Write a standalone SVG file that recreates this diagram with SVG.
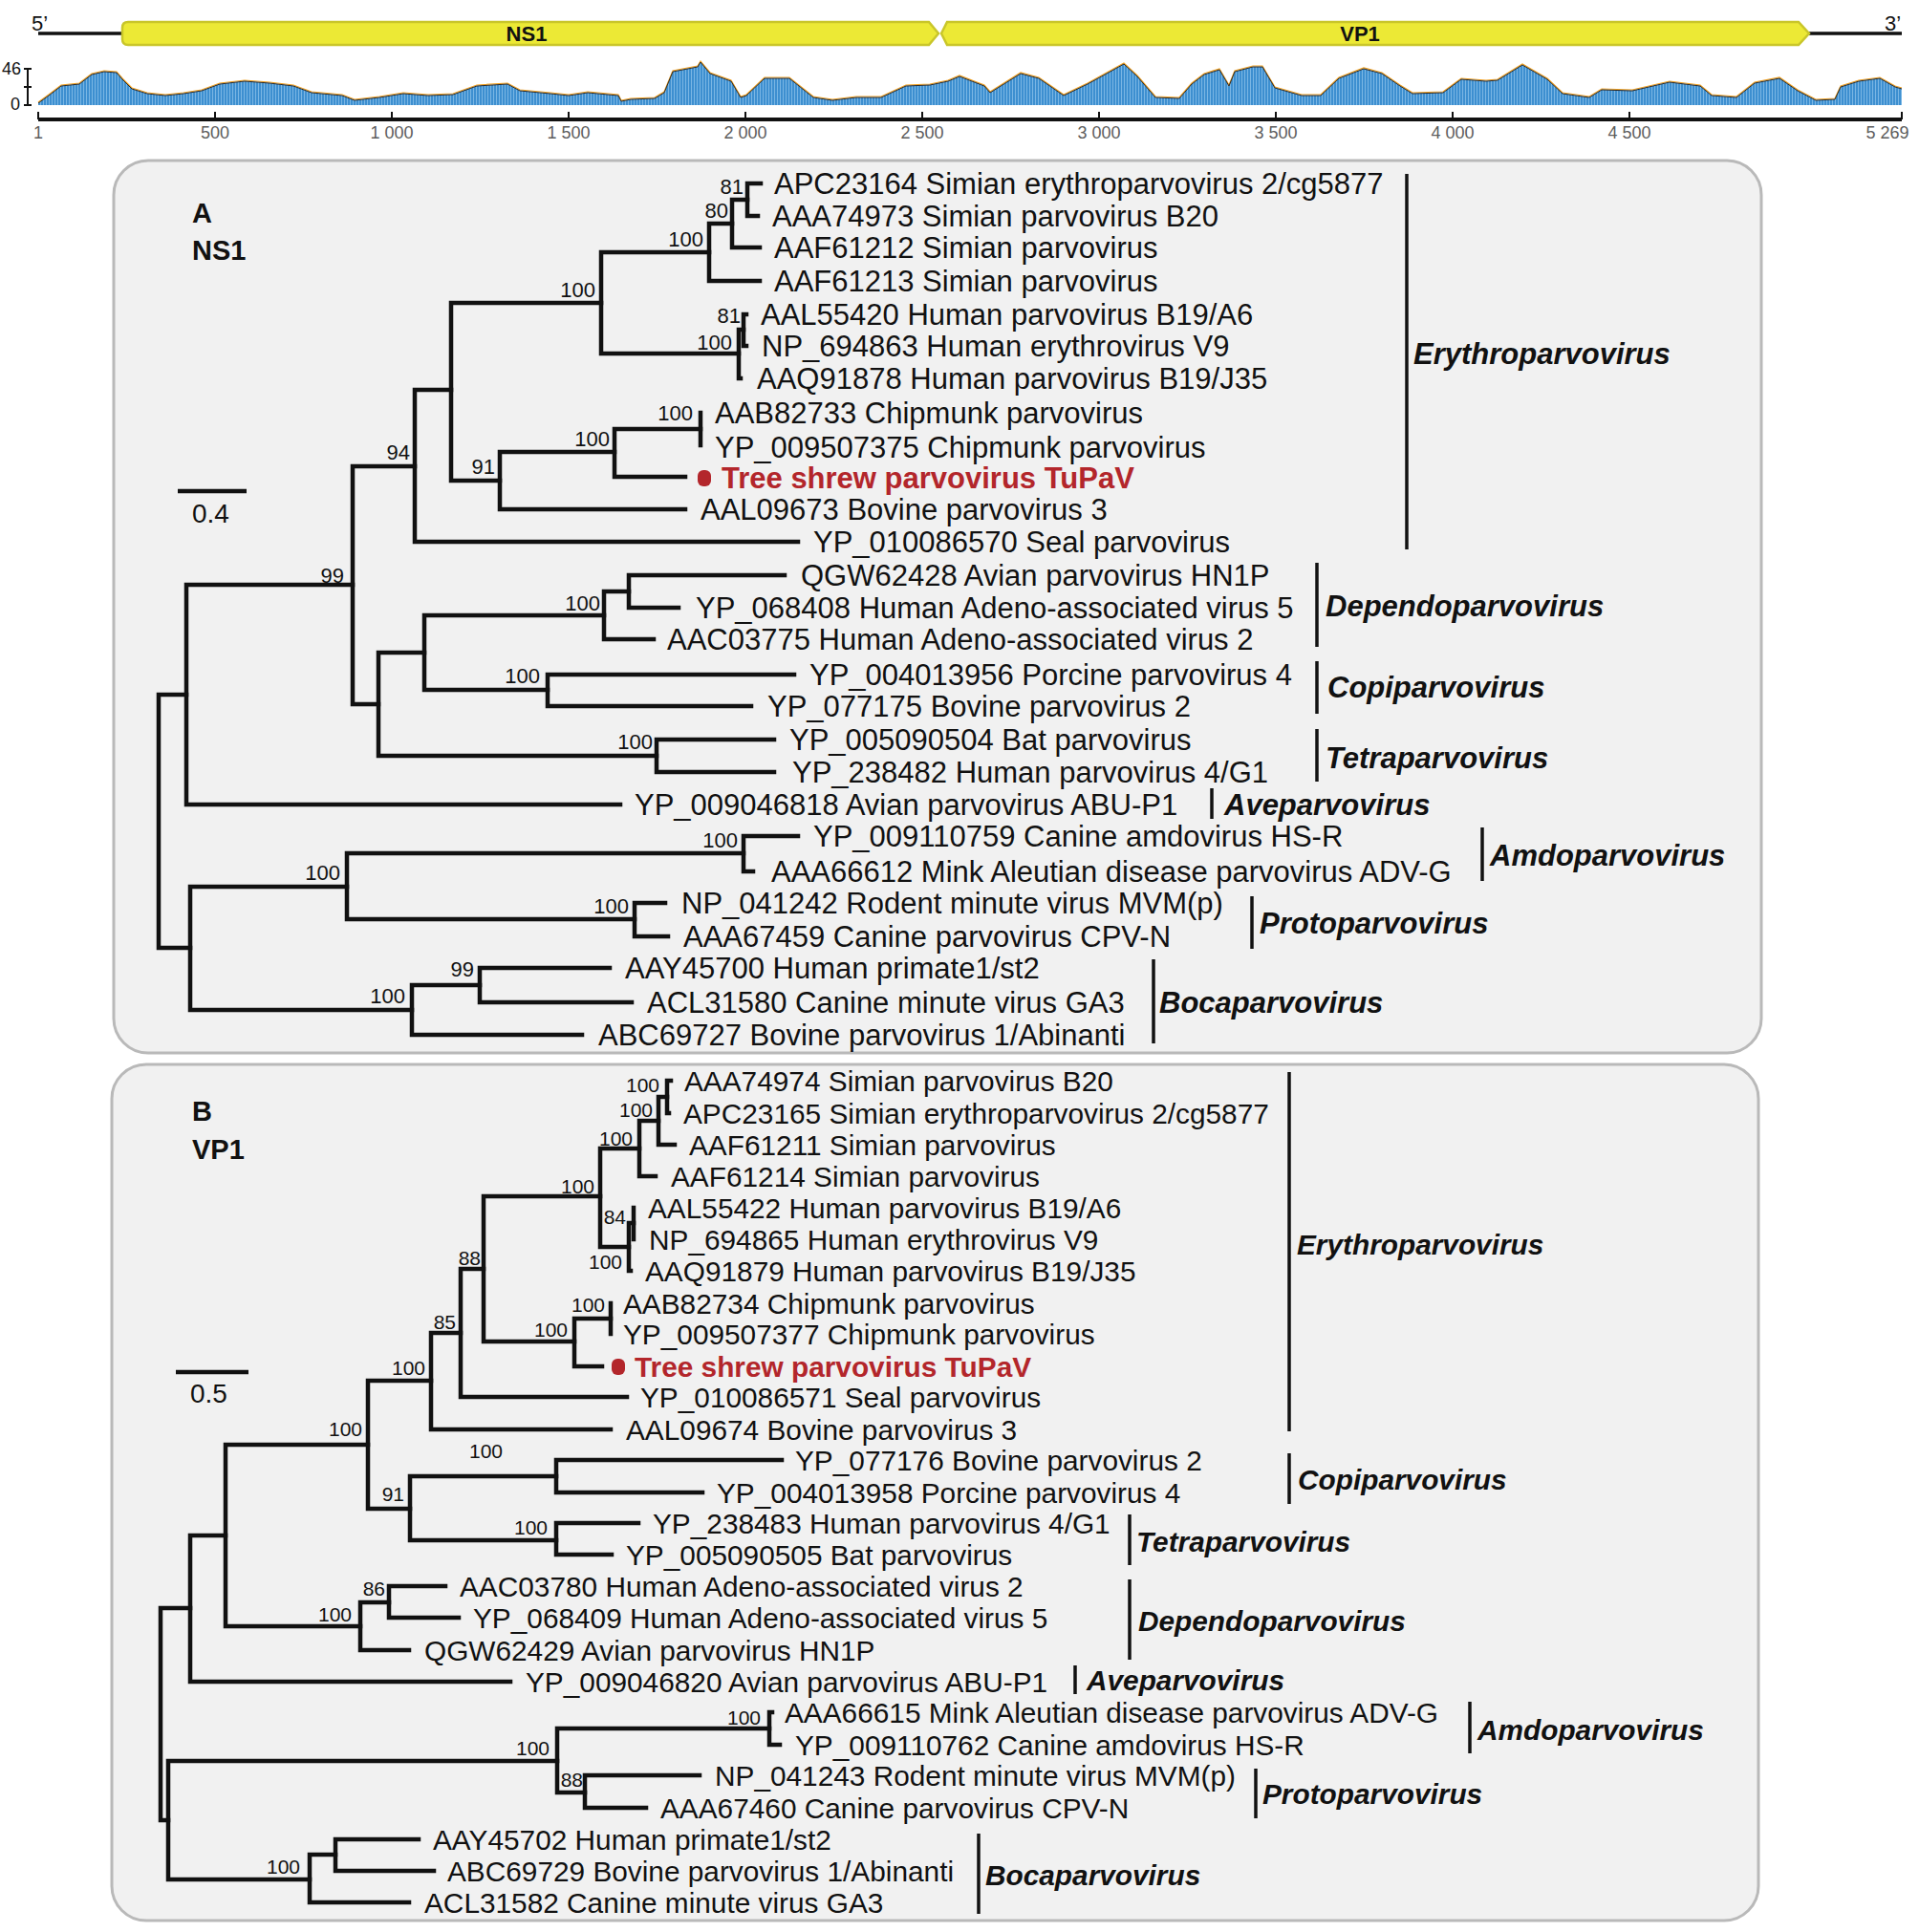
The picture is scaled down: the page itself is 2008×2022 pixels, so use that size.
<svg xmlns="http://www.w3.org/2000/svg" width="2008" height="2022" viewBox="0 0 2008 2022">
<defs>
<style>
text{font-family:"Liberation Sans",Arial,sans-serif;fill:#111}
.br{stroke:#111;stroke-width:4.5;fill:none;stroke-linecap:square}
.gb{stroke:#111;stroke-width:3.5}
.la{font-size:31px}
.lb{font-size:29.8px}
.ba{font-size:22px;text-anchor:end}
.bb{font-size:21px;text-anchor:end}
.gn{font-size:31px;font-weight:bold;font-style:italic}
.gnb{font-size:29.8px;font-weight:bold;font-style:italic}
.red{fill:#b3262b;font-weight:bold}
.pl{font-size:29px;font-weight:bold}
.ax{font-size:18px;fill:#5d5d5d;text-anchor:middle}
.panel{fill:#f1f1f1;stroke:#b9b9b9;stroke-width:3}
.gene{fill:#ece935;stroke:#c9c62a;stroke-width:2.5}
</style>
<pattern id="stripes" width="3" height="10" patternUnits="userSpaceOnUse">
<rect width="3" height="10" fill="#3d8fd0"/>
<rect width="1" height="10" fill="#7ab6e4"/>
</pattern>
</defs>
<rect width="2008" height="2022" fill="#ffffff"/>

<g id="genome">
<text x="33" y="32" style="font-size:22px">5’</text>
<text x="1972" y="32" style="font-size:22px">3’</text>
<line x1="40" y1="35" x2="129" y2="35" stroke="#111" stroke-width="3.5"/>
<line x1="1893" y1="35" x2="1990" y2="35" stroke="#111" stroke-width="3.5"/>
<path class="gene" d="M134,23 H972 L982,35 L972,47 H134 Q128,47 128,41 V29 Q128,23 134,23 Z"/>
<path class="gene" d="M991,23 H1882 L1893,35 L1882,47 H991 L985,35 Z"/>
<text x="551" y="43" style="font-size:22px;font-weight:bold" text-anchor="middle">NS1</text>
<text x="1423" y="43" style="font-size:22px;font-weight:bold" text-anchor="middle">VP1</text>
</g>

<g id="coverage">
<path fill="url(#stripes)" d="M40,110 L40,108 L51,100 L64,90 L83,88 L96,78 L109,75 L122,76 L128,83 L138,93 L154,98 L173,100 L192,98 L211,95 L230,88 L256,85 L282,87 L307,90 L326,97 L358,100 L371,105 L397,102 L422,98 L448,100 L474,99 L499,90 L531,88 L544,95 L576,98 L595,100 L615,97 L647,100 L650,106 L660,104 L685,103 L695,97 L704,75 L730,70 L733,65 L743,77 L765,85 L775,102 L781,100 L800,82 L826,82 L851,102 L871,105 L896,102 L922,102 L948,90 L973,89 L992,85 L1004,80 L1030,90 L1036,97 L1068,77 L1087,82 L1113,100 L1138,88 L1158,77 L1176,67 L1190,80 L1209,102 L1234,103 L1247,88 L1260,78 L1276,73 L1286,90 L1292,75 L1311,70 L1321,70 L1334,92 L1362,100 L1382,100 L1401,82 L1427,72 L1446,77 L1465,90 L1478,98 L1510,97 L1529,83 L1555,85 L1567,84 L1593,68 L1619,83 L1635,98 L1663,102 L1676,94 L1708,95 L1747,86 L1779,90 L1791,100 L1817,102 L1836,87 L1862,82 L1881,95 L1900,105 L1920,104 L1926,91 L1945,85 L1967,82 L1983,91 L1990,93 L1990,110 Z"/>
<polyline fill="none" stroke="#f0a020" stroke-width="1.2" transform="translate(0,-1)" points="40,108 51,100 64,90 83,88 96,78 109,75 122,76 128,83 138,93 154,98 173,100 192,98 211,95 230,88 256,85 282,87 307,90 326,97 358,100 371,105 397,102 422,98 448,100 474,99 499,90 531,88 544,95 576,98 595,100 615,97 647,100 650,106 660,104 685,103 695,97 704,75 730,70 733,65 743,77 765,85 775,102 781,100 800,82 826,82 851,102 871,105 896,102 922,102 948,90 973,89 992,85 1004,80 1030,90 1036,97 1068,77 1087,82 1113,100 1138,88 1158,77 1176,67 1190,80 1209,102 1234,103 1247,88 1260,78 1276,73 1286,90 1292,75 1311,70 1321,70 1334,92 1362,100 1382,100 1401,82 1427,72 1446,77 1465,90 1478,98 1510,97 1529,83 1555,85 1567,84 1593,68 1619,83 1635,98 1663,102 1676,94 1708,95 1747,86 1779,90 1791,100 1817,102 1836,87 1862,82 1881,95 1900,105 1920,104 1926,91 1945,85 1967,82 1983,91 1990,93"/>
<polyline fill="none" stroke="#2a2a2a" stroke-width="1" points="40,108 51,100 64,90 83,88 96,78 109,75 122,76 128,83 138,93 154,98 173,100 192,98 211,95 230,88 256,85 282,87 307,90 326,97 358,100 371,105 397,102 422,98 448,100 474,99 499,90 531,88 544,95 576,98 595,100 615,97 647,100 650,106 660,104 685,103 695,97 704,75 730,70 733,65 743,77 765,85 775,102 781,100 800,82 826,82 851,102 871,105 896,102 922,102 948,90 973,89 992,85 1004,80 1030,90 1036,97 1068,77 1087,82 1113,100 1138,88 1158,77 1176,67 1190,80 1209,102 1234,103 1247,88 1260,78 1276,73 1286,90 1292,75 1311,70 1321,70 1334,92 1362,100 1382,100 1401,82 1427,72 1446,77 1465,90 1478,98 1510,97 1529,83 1555,85 1567,84 1593,68 1619,83 1635,98 1663,102 1676,94 1708,95 1747,86 1779,90 1791,100 1817,102 1836,87 1862,82 1881,95 1900,105 1920,104 1926,91 1945,85 1967,82 1983,91 1990,93"/>
<path d="M29,72 V110 M25,72 H33 M25,91 H33 M25,110 H33" stroke="#111" stroke-width="2" fill="none"/>
<text x="22" y="78" style="font-size:18px" text-anchor="end">46</text>
<text x="21" y="115" style="font-size:18px" text-anchor="end">0</text>
</g>

<g id="axis">
<line x1="40" y1="125" x2="1990" y2="125" stroke="#111" stroke-width="4"/>
<path d="M40,117 V125 M225,117 V125 M410,117 V125 M595,117 V125 M780,117 V125 M965,117 V125 M1150,117 V125 M1335,117 V125 M1520,117 V125 M1705,117 V125 M1990,117 V125" stroke="#111" stroke-width="2"/>
<text class="ax" x="40" y="145">1</text>
<text class="ax" x="225" y="145">500</text>
<text class="ax" x="410" y="145">1 000</text>
<text class="ax" x="595" y="145">1 500</text>
<text class="ax" x="780" y="145">2 000</text>
<text class="ax" x="965" y="145">2 500</text>
<text class="ax" x="1150" y="145">3 000</text>
<text class="ax" x="1335" y="145">3 500</text>
<text class="ax" x="1520" y="145">4 000</text>
<text class="ax" x="1705" y="145">4 500</text>
<text class="ax" x="1975" y="145">5 269</text>
</g>

<rect class="panel" x="119" y="168" width="1724" height="934" rx="36"/>
<rect class="panel" x="117" y="1114" width="1723" height="896" rx="36"/>

<!-- ================= Tree A ================= -->
<g id="panelA-title">
<text class="pl" x="201" y="233">A</text>
<text class="pl" x="201" y="272">NS1</text>
<line x1="186" y1="514" x2="258" y2="514" stroke="#111" stroke-width="4.5"/>
<text x="201" y="547" style="font-size:28px">0.4</text>
</g>

<g id="connectors-A">
<path class="br" d="M166,727 V992 M166,727 H195 M166,992 H199"/>
<path class="br" d="M195,612 V842 M195,612 H369 M195,842 H649"/>
<path class="br" d="M369,488 V737 M369,488 H434 M369,737 H396"/>
<path class="br" d="M434,408 V567 M434,408 H472 M434,567 H835"/>
<path class="br" d="M472,317 V503 M472,317 H629 M472,503 H523"/>
<path class="br" d="M629,264 V370 M629,264 H742 M629,370 H773"/>
<path class="br" d="M742,234 V294 M742,234 H766 M742,294 H795"/>
<path class="br" d="M766,209 V259 M766,209 H782 M766,259 H795"/>
<path class="br" d="M782,192 V226 M782,192 H796 M782,226 H793"/>
<path class="br" d="M773,345 V396 M773,345 H778 M773,396 H775"/>
<path class="br" d="M778,329 V362 M778,329 H781 M778,362 H781"/>
<path class="br" d="M523,473 V533 M523,473 H643 M523,533 H717"/>
<path class="br" d="M643,449 V499 M643,449 H733 M643,499 H717"/>
<path class="br" d="M733,432 V466"/>
<path class="br" d="M396,683 V791 M396,683 H444 M396,791 H687"/>
<path class="br" d="M444,644 V722 M444,644 H632 M444,722 H573"/>
<path class="br" d="M632,619 V669 M632,619 H658 M632,669 H684"/>
<path class="br" d="M658,602 V636 M658,602 H821 M658,636 H710"/>
<path class="br" d="M573,706 V739 M573,706 H831 M573,739 H786"/>
<path class="br" d="M687,774 V808 M687,774 H810 M687,808 H810"/>
<path class="br" d="M199,928 V1057 M199,928 H363 M199,1057 H431"/>
<path class="br" d="M363,893 V962 M363,893 H778 M363,962 H664"/>
<path class="br" d="M778,875 V912 M778,875 H835 M778,912 H788"/>
<path class="br" d="M664,945 V980 M664,945 H696 M664,980 H699"/>
<path class="br" d="M431,1031 V1083 M431,1031 H502 M431,1083 H609"/>
<path class="br" d="M502,1013 V1049 M502,1013 H638 M502,1049 H661"/>
</g>

<g id="support-A">
<text class="ba" x="778" y="203">81</text>
<text class="ba" x="762" y="228">80</text>
<text class="ba" x="736" y="258">100</text>
<text class="ba" x="623" y="311">100</text>
<text class="ba" x="775" y="338">81</text>
<text class="ba" x="766" y="366">100</text>
<text class="ba" x="725" y="440">100</text>
<text class="ba" x="638" y="467">100</text>
<text class="ba" x="518" y="496">91</text>
<text class="ba" x="429" y="481">94</text>
<text class="ba" x="360" y="610">99</text>
<text class="ba" x="628" y="639">100</text>
<text class="ba" x="565" y="715">100</text>
<text class="ba" x="683" y="784">100</text>
<text class="ba" x="772" y="887">100</text>
<text class="ba" x="356" y="921">100</text>
<text class="ba" x="658" y="956">100</text>
<text class="ba" x="496" y="1022">99</text>
<text class="ba" x="424" y="1050">100</text>
</g>

<g id="leaves-A">
<g id="a-APC23164"><text class="la" x="810" y="203">APC23164 Simian erythroparvovirus 2/cg5877</text></g>
<g id="a-AAA74973"><text class="la" x="808" y="237">AAA74973 Simian parvovirus B20</text></g>
<g id="a-AAF61212"><text class="la" x="810" y="270">AAF61212 Simian parvovirus</text></g>
<g id="a-AAF61213"><text class="la" x="810" y="305">AAF61213 Simian parvovirus</text></g>
<g id="a-AAL55420"><text class="la" x="796" y="340">AAL55420 Human parvovirus B19/A6</text></g>
<g id="a-NP_694863"><text class="la" x="797" y="373">NP_694863 Human erythrovirus V9</text></g>
<g id="a-AAQ91878"><text class="la" x="792" y="407">AAQ91878 Human parvovirus B19/J35</text></g>
<g id="a-AAB82733"><text class="la" x="748" y="443">AAB82733 Chipmunk parvovirus</text></g>
<g id="a-YP_009507375"><text class="la" x="748" y="479">YP_009507375 Chipmunk parvovirus</text></g>
<g id="a-TuPaV"><rect x="730" y="492" width="14" height="17" rx="6" fill="#b3262b"/><text class="la red" x="755" y="511">Tree shrew parvovirus TuPaV</text></g>
<g id="a-AAL09673"><text class="la" x="733" y="544">AAL09673 Bovine parvovirus 3</text></g>
<g id="a-YP_010086570"><text class="la" x="851" y="578">YP_010086570 Seal parvovirus</text></g>
<g id="a-QGW62428"><text class="la" x="838" y="613">QGW62428 Avian parvovirus HN1P</text></g>
<g id="a-YP_068408"><text class="la" x="728" y="647">YP_068408 Human Adeno-associated virus 5</text></g>
<g id="a-AAC03775"><text class="la" x="698" y="680">AAC03775 Human Adeno-associated virus 2</text></g>
<g id="a-YP_004013956"><text class="la" x="847" y="717">YP_004013956 Porcine parvovirus 4</text></g>
<g id="a-YP_077175"><text class="la" x="803" y="750">YP_077175 Bovine parvovirus 2</text></g>
<g id="a-YP_005090504"><text class="la" x="826" y="785">YP_005090504 Bat parvovirus</text></g>
<g id="a-YP_238482"><text class="la" x="829" y="819">YP_238482 Human parvovirus 4/G1</text></g>
<g id="a-YP_009046818"><text class="la" x="664" y="853">YP_009046818 Avian parvovirus ABU-P1</text></g>
<g id="a-YP_009110759"><text class="la" x="851" y="886">YP_009110759 Canine amdovirus HS-R</text></g>
<g id="a-AAA66612"><text class="la" x="807" y="923">AAA66612 Mink Aleutian disease parvovirus ADV-G</text></g>
<g id="a-NP_041242"><text class="la" x="713" y="956">NP_041242 Rodent minute virus MVM(p)</text></g>
<g id="a-AAA67459"><text class="la" x="715" y="991">AAA67459 Canine parvovirus CPV-N</text></g>
<g id="a-AAY45700"><text class="la" x="654" y="1024">AAY45700 Human primate1/st2</text></g>
<g id="a-ACL31580"><text class="la" x="677" y="1060">ACL31580 Canine minute virus GA3</text></g>
<g id="a-ABC69727"><text class="la" x="626" y="1094">ABC69727 Bovine parvovirus 1/Abinanti</text></g>
</g>

<g id="genera-A">
<line class="gb" x1="1472" y1="182" x2="1472" y2="575"/><text class="gn" x="1479" y="381">Erythroparvovirus</text>
<line class="gb" x1="1378" y1="589" x2="1378" y2="677"/><text class="gn" x="1387" y="645">Dependoparvovirus</text>
<line class="gb" x1="1378" y1="692" x2="1378" y2="747"/><text class="gn" x="1389" y="730">Copiparvovirus</text>
<line class="gb" x1="1378" y1="763" x2="1378" y2="818"/><text class="gn" x="1387" y="804">Tetraparvovirus</text>
<line class="gb" x1="1268" y1="825" x2="1268" y2="857"/><text class="gn" x="1281" y="853">Aveparvovirus</text>
<line class="gb" x1="1551" y1="866" x2="1551" y2="922"/><text class="gn" x="1559" y="906">Amdoparvovirus</text>
<line class="gb" x1="1310" y1="938" x2="1310" y2="993"/><text class="gn" x="1318" y="977">Protoparvovirus</text>
<line class="gb" x1="1207" y1="1004" x2="1207" y2="1092"/><text class="gn" x="1213" y="1060">Bocaparvovirus</text>
</g>

<!-- ================= Tree B ================= -->
<g id="panelB-title">
<text class="pl" x="201" y="1173">B</text>
<text class="pl" x="201" y="1213">VP1</text>
<line x1="184" y1="1436" x2="260" y2="1436" stroke="#111" stroke-width="4.5"/>
<text x="199" y="1468" style="font-size:28px">0.5</text>
</g>

<g id="connectors-B">
<path class="br" d="M168,1683 V1905 M168,1683 H199 M168,1905 H176"/>
<path class="br" d="M199,1607 V1760 M199,1607 H236 M199,1760 H534"/>
<path class="br" d="M236,1512 V1702 M236,1512 H385 M236,1702 H377"/>
<path class="br" d="M385,1445 V1579 M385,1445 H451 M385,1579 H429"/>
<path class="br" d="M451,1395 V1496 M451,1395 H482 M451,1496 H639"/>
<path class="br" d="M482,1328 V1462 M482,1328 H506 M482,1462 H656"/>
<path class="br" d="M506,1252 V1404 M506,1252 H628 M506,1404 H601"/>
<path class="br" d="M628,1202 V1305 M628,1202 H669 M628,1305 H658"/>
<path class="br" d="M669,1173 V1231 M669,1173 H689 M669,1231 H686"/>
<path class="br" d="M689,1148 V1198 M689,1148 H698 M689,1198 H706"/>
<path class="br" d="M698,1131 V1165 M698,1131 H702 M698,1165 H700"/>
<path class="br" d="M658,1280 V1330 M658,1280 H663 M658,1330 H660"/>
<path class="br" d="M663,1264 V1297"/>
<path class="br" d="M601,1380 V1430 M601,1380 H639 M601,1430 H630"/>
<path class="br" d="M639,1364 V1396"/>
<path class="br" d="M429,1545 V1612 M429,1545 H582 M429,1612 H582"/>
<path class="br" d="M582,1528 V1562 M582,1528 H818 M582,1562 H735"/>
<path class="br" d="M582,1594 V1627 M582,1594 H668 M582,1627 H640"/>
<path class="br" d="M377,1677 V1727 M377,1677 H407 M377,1727 H428"/>
<path class="br" d="M407,1660 V1693 M407,1660 H466 M407,1693 H480"/>
<path class="br" d="M176,1843 V1967 M176,1843 H583 M176,1967 H324"/>
<path class="br" d="M583,1809 V1876 M583,1809 H805 M583,1876 H612"/>
<path class="br" d="M805,1792 V1826 M805,1792 H808 M805,1826 H816"/>
<path class="br" d="M612,1858 V1892 M612,1858 H732 M612,1892 H676"/>
<path class="br" d="M324,1941 V1991 M324,1941 H351 M324,1991 H428"/>
<path class="br" d="M351,1925 V1958 M351,1925 H438 M351,1958 H454"/>
</g>

<g id="support-B">
<text class="bb" x="690" y="1143">100</text>
<text class="bb" x="683" y="1169">100</text>
<text class="bb" x="662" y="1199">100</text>
<text class="bb" x="622" y="1249">100</text>
<text class="bb" x="655" y="1281">84</text>
<text class="bb" x="651" y="1328">100</text>
<text class="bb" x="503" y="1324">88</text>
<text class="bb" x="633" y="1373">100</text>
<text class="bb" x="594" y="1399">100</text>
<text class="bb" x="477" y="1391">85</text>
<text class="bb" x="445" y="1439">100</text>
<text class="bb" x="379" y="1503">100</text>
<text class="bb" x="526" y="1526">100</text>
<text class="bb" x="423" y="1571">91</text>
<text class="bb" x="573" y="1606">100</text>
<text class="bb" x="403" y="1670">86</text>
<text class="bb" x="368" y="1697">100</text>
<text class="bb" x="796" y="1805">100</text>
<text class="bb" x="575" y="1837">100</text>
<text class="bb" x="610" y="1870">88</text>
<text class="bb" x="314" y="1961">100</text>
</g>

<g id="leaves-B">
<g id="b-AAA74974"><text class="lb" x="716" y="1142">AAA74974 Simian parvovirus B20</text></g>
<g id="b-APC23165"><text class="lb" x="715" y="1176">APC23165 Simian erythroparvovirus 2/cg5877</text></g>
<g id="b-AAF61211"><text class="lb" x="721" y="1209">AAF61211 Simian parvovirus</text></g>
<g id="b-AAF61214"><text class="lb" x="702" y="1242">AAF61214 Simian parvovirus</text></g>
<g id="b-AAL55422"><text class="lb" x="678" y="1275">AAL55422 Human parvovirus B19/A6</text></g>
<g id="b-NP_694865"><text class="lb" x="679" y="1308">NP_694865 Human erythrovirus V9</text></g>
<g id="b-AAQ91879"><text class="lb" x="675" y="1341">AAQ91879 Human parvovirus B19/J35</text></g>
<g id="b-AAB82734"><text class="lb" x="652" y="1375">AAB82734 Chipmunk parvovirus</text></g>
<g id="b-YP_009507377"><text class="lb" x="652" y="1407">YP_009507377 Chipmunk parvovirus</text></g>
<g id="b-TuPaV"><rect x="640" y="1422" width="14" height="17" rx="6" fill="#b3262b"/><text class="lb red" x="664" y="1441">Tree shrew parvovirus TuPaV</text></g>
<g id="b-YP_010086571"><text class="lb" x="670" y="1473">YP_010086571 Seal parvovirus</text></g>
<g id="b-AAL09674"><text class="lb" x="655" y="1507">AAL09674 Bovine parvovirus 3</text></g>
<g id="b-YP_077176"><text class="lb" x="832" y="1539">YP_077176 Bovine parvovirus 2</text></g>
<g id="b-YP_004013958"><text class="lb" x="750" y="1573">YP_004013958 Porcine parvovirus 4</text></g>
<g id="b-YP_238483"><text class="lb" x="683" y="1605">YP_238483 Human parvovirus 4/G1</text></g>
<g id="b-YP_005090505"><text class="lb" x="655" y="1638">YP_005090505 Bat parvovirus</text></g>
<g id="b-AAC03780"><text class="lb" x="481" y="1671">AAC03780 Human Adeno-associated virus 2</text></g>
<g id="b-YP_068409"><text class="lb" x="495" y="1704">YP_068409 Human Adeno-associated virus 5</text></g>
<g id="b-QGW62429"><text class="lb" x="444" y="1738">QGW62429 Avian parvovirus HN1P</text></g>
<g id="b-YP_009046820"><text class="lb" x="550" y="1771">YP_009046820 Avian parvovirus ABU-P1</text></g>
<g id="b-AAA66615"><text class="lb" x="821" y="1803">AAA66615 Mink Aleutian disease parvovirus ADV-G</text></g>
<g id="b-YP_009110762"><text class="lb" x="832" y="1837">YP_009110762 Canine amdovirus HS-R</text></g>
<g id="b-NP_041243"><text class="lb" x="748" y="1869">NP_041243 Rodent minute virus MVM(p)</text></g>
<g id="b-AAA67460"><text class="lb" x="691" y="1903">AAA67460 Canine parvovirus CPV-N</text></g>
<g id="b-AAY45702"><text class="lb" x="453" y="1936">AAY45702 Human primate1/st2</text></g>
<g id="b-ABC69729"><text class="lb" x="468" y="1969">ABC69729 Bovine parvovirus 1/Abinanti</text></g>
<g id="b-ACL31582"><text class="lb" x="444" y="2002">ACL31582 Canine minute virus GA3</text></g>
</g>

<g id="genera-B">
<line class="gb" x1="1349" y1="1122" x2="1349" y2="1498"/><text class="gnb" x="1357" y="1313">Erythroparvovirus</text>
<line class="gb" x1="1349" y1="1521" x2="1349" y2="1574"/><text class="gnb" x="1358" y="1559">Copiparvovirus</text>
<line class="gb" x1="1182" y1="1585" x2="1182" y2="1638"/><text class="gnb" x="1189" y="1624">Tetraparvovirus</text>
<line class="gb" x1="1182" y1="1653" x2="1182" y2="1737"/><text class="gnb" x="1191" y="1707">Dependoparvovirus</text>
<line class="gb" x1="1125" y1="1743" x2="1125" y2="1773"/><text class="gnb" x="1137" y="1769">Aveparvovirus</text>
<line class="gb" x1="1538" y1="1781" x2="1538" y2="1835"/><text class="gnb" x="1546" y="1821">Amdoparvovirus</text>
<line class="gb" x1="1314" y1="1851" x2="1314" y2="1903"/><text class="gnb" x="1321" y="1888">Protoparvovirus</text>
<line class="gb" x1="1024" y1="1919" x2="1024" y2="2003"/><text class="gnb" x="1031" y="1973">Bocaparvovirus</text>
</g>
</svg>
